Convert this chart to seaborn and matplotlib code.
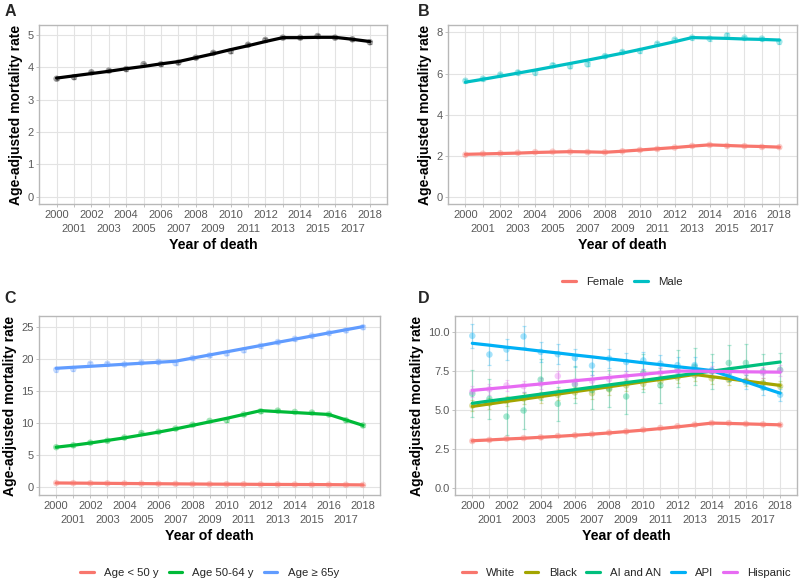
import numpy as np
import pandas as pd
import seaborn as sns
import matplotlib.pyplot as plt
from matplotlib.lines import Line2D

# ---------------- data ----------------
years = list(range(2000, 2019))
even_years = [y for y in years if y % 2 == 0]
odd_years = [y for y in years if y % 2 == 1]

# Panel A: overall
overall_obs = [3.65, 3.70, 3.85, 3.90, 3.95, 4.10, 4.10, 4.15, 4.30, 4.45, 4.50, 4.70, 4.85, 4.92, 4.92, 4.97, 4.92, 4.87, 4.78]
overall_fit = [3.67, 3.74, 3.81, 3.88, 3.96, 4.03, 4.11, 4.18, 4.30, 4.42, 4.55, 4.67, 4.80, 4.92, 4.92, 4.93, 4.93, 4.87, 4.80]
overall_err = [0.05] * 19

# Panel B: sex
sex_labels = ["Female", "Male"]
female_obs = [2.05, 2.10, 2.12, 2.15, 2.18, 2.20, 2.20, 2.18, 2.17, 2.22, 2.28, 2.33, 2.40, 2.48, 2.53, 2.48, 2.47, 2.43, 2.42]
female_fit = [2.07, 2.09, 2.11, 2.13, 2.16, 2.18, 2.20, 2.19, 2.17, 2.22, 2.28, 2.34, 2.40, 2.47, 2.53, 2.50, 2.47, 2.45, 2.42]
male_obs = [5.65, 5.75, 5.95, 6.05, 6.05, 6.40, 6.35, 6.45, 6.85, 7.05, 7.10, 7.45, 7.65, 7.75, 7.70, 7.85, 7.75, 7.70, 7.55]
male_fit = [5.58, 5.72, 5.87, 6.02, 6.17, 6.33, 6.49, 6.65, 6.82, 6.99, 7.17, 7.36, 7.55, 7.75, 7.73, 7.71, 7.68, 7.66, 7.63]

# Panel C: age
age_labels = ["Age < 50 y", "Age 50-64 y", "Age \u2265 65y"]
age_lt50_obs = [0.62, 0.60, 0.58, 0.56, 0.54, 0.52, 0.50, 0.48, 0.46, 0.44, 0.43, 0.42, 0.40, 0.39, 0.38, 0.37, 0.36, 0.34, 0.32]
age_lt50_fit = [0.62, 0.60, 0.58, 0.56, 0.54, 0.52, 0.50, 0.48, 0.46, 0.44, 0.43, 0.42, 0.40, 0.39, 0.38, 0.37, 0.36, 0.34, 0.32]
age_5064_obs = [6.2, 6.5, 6.9, 7.2, 7.7, 8.4, 8.6, 9.1, 9.7, 10.3, 10.4, 11.3, 11.8, 11.9, 11.7, 11.6, 11.3, 10.4, 9.6]
age_5064_fit = [6.2, 6.5, 6.85, 7.25, 7.65, 8.1, 8.55, 9.05, 9.6, 10.15, 10.7, 11.3, 11.9, 11.75, 11.6, 11.45, 11.3, 10.45, 9.6]
age_65_obs = [18.3, 18.4, 19.2, 19.2, 19.1, 19.4, 19.5, 19.3, 20.1, 20.5, 20.8, 21.3, 22.0, 22.6, 23.1, 23.6, 24.0, 24.4, 24.9]
age_65_fit = [18.5, 18.66, 18.81, 18.97, 19.13, 19.29, 19.44, 19.6, 20.09, 20.58, 21.07, 21.56, 22.05, 22.55, 23.04, 23.53, 24.02, 24.51, 25.0]

# Panel D: race / ethnicity
race_labels = ["White", "Black", "AI and AN", "API", "Hispanic"]
white_obs = [3.03, 3.10, 3.18, 3.22, 3.27, 3.35, 3.40, 3.47, 3.57, 3.65, 3.75, 3.87, 3.98, 4.08, 4.18, 4.18, 4.13, 4.10, 4.07]
white_fit = [3.05, 3.10, 3.16, 3.21, 3.27, 3.33, 3.40, 3.47, 3.55, 3.64, 3.73, 3.83, 3.94, 4.06, 4.18, 4.16, 4.13, 4.10, 4.07]
white_err = [0.08] * 19
black_obs = [5.30, 5.45, 5.60, 5.75, 5.85, 6.00, 6.15, 6.10, 6.35, 6.60, 6.70, 6.85, 7.10, 7.25, 7.05, 6.95, 6.90, 6.75, 6.55]
black_fit = [5.25, 5.41, 5.57, 5.72, 5.88, 6.04, 6.20, 6.35, 6.51, 6.67, 6.83, 6.98, 7.14, 7.30, 7.16, 7.02, 6.88, 6.74, 6.60]
black_err = [0.35] * 19
aian_obs = [6.06, 5.74, 4.60, 4.99, 6.97, 5.42, 6.66, 6.30, 6.40, 5.89, 7.40, 6.60, 7.70, 7.80, 7.50, 8.04, 8.04, 7.50, 7.60]
aian_fit = [5.45, 5.60, 5.74, 5.89, 6.04, 6.19, 6.33, 6.48, 6.63, 6.78, 6.92, 7.07, 7.22, 7.37, 7.51, 7.66, 7.81, 7.96, 8.10]
aian_err = [1.5, 1.3, 1.2, 1.2, 1.3, 1.1, 1.2, 1.2, 1.2, 1.1, 1.2, 1.1, 1.2, 1.2, 1.1, 1.15, 1.2, 1.1, 1.1]
api_obs = [9.78, 8.58, 8.90, 9.74, 8.75, 8.60, 8.36, 7.87, 8.32, 8.10, 8.20, 8.00, 7.90, 7.90, 7.57, 7.35, 6.80, 6.45, 6.00]
api_fit = [9.30, 9.18, 9.05, 8.93, 8.80, 8.68, 8.55, 8.43, 8.30, 8.18, 8.05, 7.93, 7.80, 7.68, 7.55, 7.19, 6.83, 6.46, 6.10]
api_err = [0.75, 0.65, 0.65, 0.7, 0.65, 0.65, 0.6, 0.6, 0.6, 0.55, 0.55, 0.55, 0.5, 0.5, 0.5, 0.45, 0.45, 0.45, 0.4]
hisp_obs = [6.20, 6.35, 6.60, 6.55, 6.70, 7.20, 6.75, 6.90, 7.00, 7.20, 7.30, 7.40, 7.50, 7.55, 7.50, 7.45, 7.45, 7.40, 7.55]
hisp_fit = [6.28, 6.38, 6.48, 6.59, 6.69, 6.80, 6.90, 7.00, 7.11, 7.21, 7.31, 7.42, 7.52, 7.51, 7.50, 7.49, 7.47, 7.46, 7.45]
hisp_err = [0.35] * 19

# ---------------- style ----------------
sns.set_theme(style="white")
plt.rcParams['font.family'] = ['Liberation Sans', 'DejaVu Sans']

GRID = '#E3E3E3'
BORDER = '#B8B8B8'
TICKTXT = '#5A5A5A'
TICKFS = 8.0


def long_df(names, obs_list, fit_list, err_list):
    rows = []
    for n, o, f, e in zip(names, obs_list, fit_list, err_list):
        for y, ov, fv, ev in zip(years, o, f, e):
            rows.append({'year': y, 'group': n, 'obs': ov, 'fit': fv, 'err': ev})
    return pd.DataFrame(rows)


def draw(ax, df, palette, err_alpha=0.3):
    for g, col in palette.items():
        sub = df[df.group == g]
        ax.errorbar(sub.year, sub.obs, yerr=sub.err, fmt='none', ecolor=col,
                    alpha=err_alpha, elinewidth=0.9, capsize=1.5, capthick=0.9, zorder=2)
    sns.scatterplot(data=df, x='year', y='obs', hue='group', palette=palette, ax=ax,
                    s=22, alpha=0.35, edgecolor='none', legend=False, zorder=3)
    sns.lineplot(data=df, x='year', y='fit', hue='group', palette=palette, ax=ax,
                 linewidth=2.3, legend=False, zorder=4)


def style(ax, ylim, yticks, ylabels):
    ax.set_xlim(1999, 2019)
    ax.set_ylim(*ylim)
    ax.set_xticks(even_years)
    ax.set_xticklabels([str(y) for y in even_years], fontsize=TICKFS, color=TICKTXT)
    ax.set_xticks(odd_years, minor=True)
    ax.set_xticklabels([str(y) for y in odd_years], minor=True, fontsize=TICKFS, color=TICKTXT)
    ax.set_yticks(yticks)
    ax.set_yticklabels(ylabels, fontsize=TICKFS, color=TICKTXT)
    ax.grid(True, which='both', axis='x', color=GRID, linewidth=0.8)
    ax.grid(True, which='major', axis='y', color=GRID, linewidth=0.8)
    ax.set_axisbelow(True)
    for s in ax.spines.values():
        s.set_visible(True)
        s.set_color(BORDER)
        s.set_linewidth(1.0)
    ax.tick_params(axis='both', which='major', length=2.0, width=0.6, color=BORDER, pad=2,
                   bottom=True, left=True)
    ax.tick_params(axis='x', which='minor', length=2.0, width=0.6, color=BORDER, pad=12.5,
                   bottom=True)
    ax.set_xlabel('Year of death', fontsize=10.2, fontweight='bold', labelpad=2.5, color='black')
    ax.set_ylabel('Age-adjusted mortality rate', fontsize=10, fontweight='bold', labelpad=3, color='black')


fig = plt.figure(figsize=(8, 5.82), dpi=100)
axA = fig.add_axes([0.049, 0.649, 0.435, 0.308])
axB = fig.add_axes([0.560, 0.649, 0.436, 0.308])
axC = fig.add_axes([0.049, 0.149, 0.426, 0.308])
axD = fig.add_axes([0.569, 0.149, 0.4275, 0.308])

# A
dfA = long_df(['All'], [overall_obs], [overall_fit], [overall_err])
draw(axA, dfA, {'All': 'black'})
style(axA, (-0.23, 5.31), [0, 1, 2, 3, 4, 5], ['0', '1', '2', '3', '4', '5'])

# B
palB = dict(zip(sex_labels, ['#F8766D', '#00BFC4']))
dfB = long_df(sex_labels, [female_obs, male_obs], [female_fit, male_fit], [[0.04] * 19, [0.1] * 19])
draw(axB, dfB, palB)
style(axB, (-0.36, 8.36), [0, 2, 4, 6, 8], ['0', '2', '4', '6', '8'])

# C
palC = dict(zip(age_labels, ['#F8766D', '#00BA38', '#619CFF']))
dfC = long_df(age_labels, [age_lt50_obs, age_5064_obs, age_65_obs],
              [age_lt50_fit, age_5064_fit, age_65_fit], [[0.03] * 19, [0.2] * 19, [0.3] * 19])
draw(axC, dfC, palC)
style(axC, (-1.3, 26.65), [0, 5, 10, 15, 20, 25], ['0', '5', '10', '15', '20', '25'])

# D
palD = dict(zip(race_labels, ['#F8766D', '#A3A500', '#00BF7D', '#00B0F6', '#E76BF3']))
dfD = long_df(race_labels, [white_obs, black_obs, aian_obs, api_obs, hisp_obs],
              [white_fit, black_fit, aian_fit, api_fit, hisp_fit],
              [white_err, black_err, aian_err, api_err, hisp_err])
draw(axD, dfD, palD)
style(axD, (-0.45, 11.05), [0, 2.5, 5, 7.5, 10], ['0.0', '2.5', '5.0', '7.5', '10.0'])


# legends
def add_legend(ax, pal, y):
    handles = [Line2D([0], [0], color=c, lw=2.3) for c in pal.values()]
    ax.legend(handles, list(pal.keys()), loc='center', bbox_to_anchor=(0.5, y),
              ncol=len(pal), frameon=False, fontsize=8.2, handlelength=1.2,
              handletextpad=0.9, columnspacing=0.85, borderaxespad=0)


add_legend(axB, palB, -0.435)
add_legend(axC, palC, -0.435)
add_legend(axD, palD, -0.435)

# panel letters
for txt, x, y in [('A', 0.006, 0.973), ('B', 0.522, 0.973), ('C', 0.006, 0.479), ('D', 0.522, 0.479)]:
    fig.text(x, y, txt, fontsize=11.5, fontweight='bold', ha='left', va='baseline')

fig.savefig('out.png', dpi=100, facecolor='white')
